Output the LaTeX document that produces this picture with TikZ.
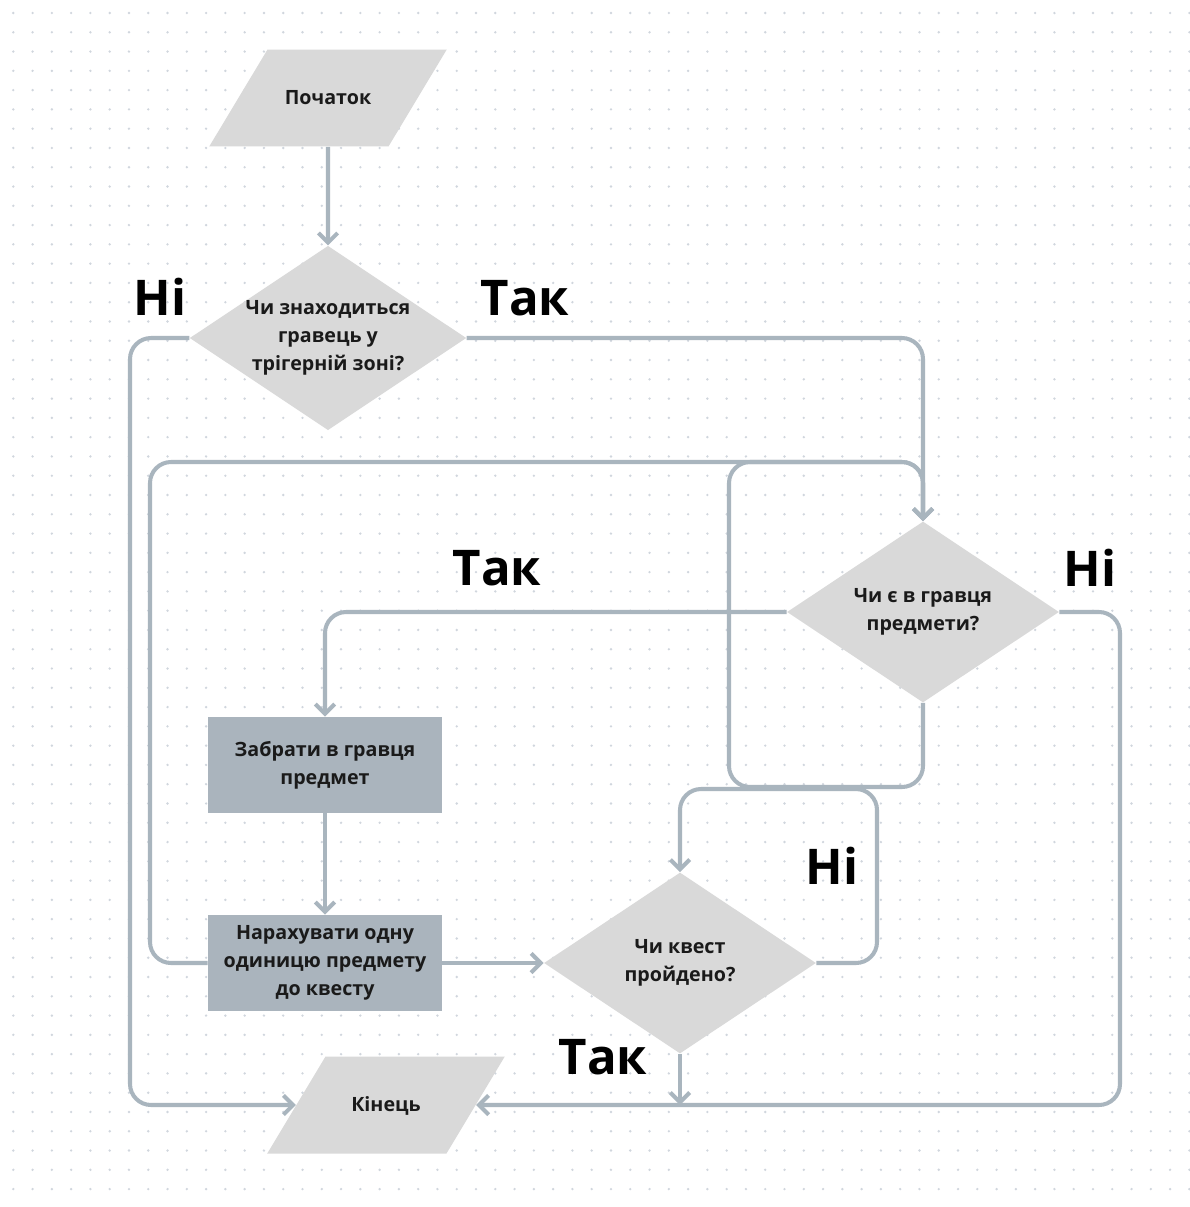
\documentclass[tikz,border=0pt]{standalone}
\usepackage{fontspec}
\setmainfont{Open Sans}
\usetikzlibrary{positioning,shapes.geometric,arrows.meta}
\definecolor{linec}{HTML}{A9B5BE}
\definecolor{shapec}{HTML}{D9D9D9}
\definecolor{boxc}{HTML}{AAB4BD}
\definecolor{dotc}{HTML}{D0D6DD}
\definecolor{textc}{HTML}{1A1A1A}
\tikzset{
  flow/.style={draw=linec, line width=2.3pt, rounded corners=12pt, -{Straight Barb[length=5.5pt,width=11pt]}},
  io/.style={trapezium, trapezium left angle=59, trapezium right angle=121,
    fill=shapec, text width=2.42cm, text height=1.09cm, text depth=0.85cm, align=center,
    inner sep=0pt, text=textc, font=\bfseries\fontsize{11.2}{15.9}\selectfont},
  ask/.style={diamond, aspect=1.5, fill=shapec, minimum width=5.44cm, minimum height=3.62cm,
    inner sep=0pt, align=center, text=textc, font=\bfseries\fontsize{11.2}{15.9}\selectfont},
  act/.style={rectangle, fill=boxc, minimum width=4.68cm, minimum height=1.92cm,
    inner sep=0pt, align=center, text=textc, font=\bfseries\fontsize{11.2}{15.9}\selectfont},
  yesno/.style={text=black, inner sep=0pt, font=\bfseries\fontsize{28}{30}\selectfont}
}
\begin{document}
\begin{tikzpicture}[x=0.02cm, y=-0.02cm]
\fill[white] (0,0) rectangle (1190,1207);
\useasboundingbox (0,0) rectangle (1190,1207);
\foreach \j in {0,...,62}
  \fill[dotc] \foreach \i in {0,...,61} {(13.3+19.28*\i, 13+19.28*\j) circle[radius=0.75pt]};

\node [io] (ST) at (328,98) {Початок};
\node [ask] (ZN) at (328,338) {Чи знаходиться\\гравець у\\трігерній зоні?};
\node [ask] (IT) at (923,612) {Чи є в гравця\\предмети?};
\node [act] (TK) at (325,765) {Забрати в гравця\\предмет};
\node [act] (AD) at (325,963) {Нарахувати одну\\одиницю предмету\\до квесту};
\node [ask] (QD) at (680,963) {Чи квест\\пройдено?};
\node [io] (EN) at (386,1105) {Кінець};

\node [yesno] (ZNno) at (160,297) {Ні};
\node [yesno] (ZNyes) at (525,298) {Так};
\node [yesno] (ITyes) at (497,568) {Так};
\node [yesno] (ITno) at (1090,568) {Ні};
\node [yesno] (QDno) at (832,866) {Ні};
\node [yesno] (QDyes) at (603,1057) {Так};

\path [flow] (ST) edge (ZN);
\draw [flow] (ZN.west) -| (130,1105) -- (EN);
\draw [flow] (ZN.east) -| (IT.north);
\draw [flow] (IT.west) -| (TK.north);
\draw [flow] (IT.east) -| (1120,1105) -- (EN);
\path [flow] (TK) edge (AD);
\draw [flow] (AD.east) -- (QD.west);
\draw [flow] (AD.west) -| (150,462) -| (IT.north);
\draw [flow] (IT.south) |- (729,787) -- (729,462) -| (IT.north);
\draw [flow] (QD.east) -| (877,789) -| (QD.north);
\draw [flow] (QD.south) -- (QD.south |- EN);
\end{tikzpicture}
\end{document}
